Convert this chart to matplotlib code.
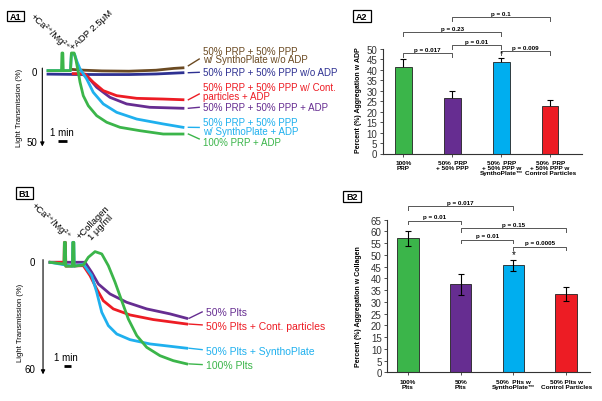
import matplotlib
matplotlib.use('Agg')
import matplotlib.pyplot as plt
from matplotlib.patches import Rectangle

plt.rcParams['font.family'] = ['Liberation Sans', 'DejaVu Sans']

# ---------------- DATA ----------------
# A1 traces: time (min) and light transmission (%)
a1_navy_t = [0, 3, 6, 9, 12, 15]
a1_navy_v = [1.3, 1.5, 1.6, 1.6, 1.2, 0.3]
a1_brown_t = [2.8, 4, 6, 9, 12, 14, 15]
a1_brown_v = [-2.0, -1.5, -1.0, -0.8, -1.5, -2.8, -3.2]
a1_purple_t = [2.8, 3.56, 4.3, 5.41, 6.89, 8.74, 11.3, 15.0]
a1_purple_v = [1.2, 1.2, 2.4, 10.7, 17.9, 22.6, 25.0, 25.7]
a1_red_t = [2.8, 3.56, 4.1, 5.03, 6.14, 7.63, 9.86, 12.8, 15.0]
a1_red_v = [1.0, 1.0, 1.2, 7.1, 13.1, 16.7, 18.6, 19.1, 19.6]
a1_cyan_t = [0, 2.5, 2.6, 2.95, 3.2, 3.56, 4.3, 5.03, 6.14, 7.63, 9.86, 12.8, 15.0]
a1_cyan_v = [-1.2, -1.2, -13, -13, -8, -2.4, 4.8, 14.3, 22.6, 28.6, 33.4, 36.9, 39.3]
a1_green_t = [0, 1.5, 1.55, 1.65, 1.7, 2.5, 2.6, 2.9, 3.1, 3.37, 3.56, 3.92, 4.48,
              5.41, 6.52, 8.0, 10.2, 12.8, 15.0]
a1_green_v = [-1.2, -1.2, -13.8, -13.8, -1.2, -1.2, -13.8, -13.8, -9, 0, 7.1, 16.7, 23.9,
              31.0, 35.7, 39.3, 41.7, 44.1, 44.1]
a1_labels = ["50% PRP + 50% PPP\nw/ SynthoPlate w/o ADP",
             "50% PRP + 50% PPP w/o ADP",
             "50% PRP + 50% PPP w/ Cont.\nparticles + ADP",
             "50% PRP + 50% PPP + ADP",
             "50% PRP + 50% PPP\nw/ SynthoPlate + ADP",
             "100% PRP + ADP"]

# B1 traces
b1_purple_t = [0, 5, 5.95, 6.9, 8.57, 10.96, 13.81, 17.14, 19.53]
b1_purple_v = [0, 0, 5.6, 12.2, 17.8, 22.5, 26.2, 29.0, 31.5]
b1_red_t = [0, 2.0, 2.05, 2.2, 2.25, 4.76, 5.71, 6.67, 7.61, 9.04, 11.43, 14.76, 19.53]
b1_red_v = [0, 0, -11.2, -11.2, 2.2, 1.9, 7.5, 15.0, 21.6, 26.2, 29.6, 32.2, 34.7]
b1_cyan_t = [0, 3.2, 3.25, 3.4, 3.45, 4.76, 5.95, 6.67, 7.39, 8.33, 9.53, 11.43, 14.29, 17.14, 19.53]
b1_cyan_v = [0, 2.2, -11.2, -11.2, 2.2, 1.0, 7.5, 16.8, 28.1, 35.6, 40.3, 43.5, 45.9, 47.2, 48.3]
b1_green_t = [0, 2.0, 2.05, 2.2, 2.25, 3.2, 3.25, 3.4, 3.45, 4.76, 5.47, 6.43, 7.39, 8.33,
              9.29, 10.24, 11.19, 12.39, 13.81, 15.71, 17.61, 19.53]
b1_green_v = [0, 1.0, -11.2, -11.2, 2.2, 2.2, -11.2, -11.2, 2.2, 1.5, -2.8, -6.0, -4.7, 1.9,
              11.2, 21.6, 31.9, 41.2, 47.8, 52.5, 55.3, 57.1]
b1_labels = ["50% Plts", "50% Plts + Cont. particles", "50% Plts + SynthoPlate", "100% Plts"]

# A2 bars
a2_categories = ["100%\nPRP", "50%  PRP\n+ 50% PPP", "50%  PRP\n+ 50% PPP w\nSynthoPlate\u2122",
                 "50%  PRP\n+ 50% PPP w\nControl Particles"]
a2_values = [41.5, 26.5, 44.0, 22.5]
a2_errors = [3.5, 3.3, 1.5, 3.0]
a2_pairs = [(1, 3), (0, 2), (1, 2), (0, 1), (2, 3)]
a2_pvalues = ["p = 0.1", "p = 0.23", "p = 0.01", "p = 0.017", "p = 0.009"]

# B2 bars
b2_categories = ["100%\nPlts", "50%\nPlts", "50%  Plts w\nSynthoPlate\u2122", "50% Plts w\nControl Particles"]
b2_values = [57.0, 37.5, 45.5, 33.5]
b2_errors = [3.0, 4.5, 2.5, 3.0]
b2_pairs = [(0, 2), (0, 1), (1, 3), (1, 2), (2, 3)]
b2_pvalues = ["p = 0.017", "p = 0.01", "p = 0.15", "p = 0.01", "p = 0.0005"]

# ---------------- LAYOUT / STYLE ----------------
W, H = 602, 402
fig = plt.figure(figsize=(W / 100, H / 100), dpi=100)

C_GREEN = '#3BB54A'
C_PURPLE = '#662D91'
C_CYAN = '#1FB0EE'
C_RED = '#ED1C24'
C_NAVY = '#2E3192'
C_BROWN = '#6B4A22'


def add_ax(l, t, r, b):
    return fig.add_axes([l / W, 1 - b / H, (r - l) / W, (b - t) / H])


def ftext(px, py, s, **kw):
    fig.text(px / W, 1 - py / H, s, **kw)


def panel_box(x0, y0, x1, y1, label):
    fig.add_artist(Rectangle((x0 / W, 1 - y1 / H), (x1 - x0) / W, (y1 - y0) / H,
                             transform=fig.transFigure, fill=False, lw=0.9, ec='black'))
    ftext((x0 + x1) / 2, (y0 + y1) / 2 + 0.3, label, ha='center', va='center',
          fontsize=6.5, fontweight='bold')


# ---------------- A1 ----------------
ax1 = add_ax(20, 40, 200, 150)
ax1.set_xlim(-3.11, 16.89)
ax1.set_ylim(54.8, -23.8)
ax1.axis('off')
a1_series = [(a1_navy_t, a1_navy_v, C_NAVY), (a1_brown_t, a1_brown_v, C_BROWN),
             (a1_purple_t, a1_purple_v, C_PURPLE), (a1_red_t, a1_red_v, C_RED),
             (a1_cyan_t, a1_cyan_v, C_CYAN), (a1_green_t, a1_green_v, C_GREEN)]
for t, v, c in a1_series:
    ax1.plot(t, v, color=c, lw=2.0, solid_joinstyle='round')

# label order: brown, navy, red, purple, cyan, green
a1_label_series = [1, 0, 3, 2, 4, 5]
a1_leader_end = [-9.5, 0, 15.5, 25, 39.4, 47.6]
a1_text_y = [-12.4, 0, 13.7, 25, 38.5, 50]
for k, si in enumerate(a1_label_series):
    t, v, c = a1_series[si]
    ax1.plot([t[-1] + 0.6, t[-1] + 1.8], [v[-1] - (1.5 if si == 1 else 0), a1_leader_end[k]],
             color=c, lw=1.0, clip_on=False)
    ax1.text(t[-1] + 2.2, a1_text_y[k], a1_labels[k], color=c, fontsize=7.0,
             ha='left', va='center', linespacing=0.85, clip_on=False)

ax1.annotate('', xy=(-0.63, 53), xytext=(-0.63, -3),
             arrowprops=dict(arrowstyle='-|>', lw=0.8, color='black', mutation_scale=6,
                             shrinkA=0, shrinkB=0))
ax1.text(-1.17, 0, '0', fontsize=7, ha='right', va='center')
ax1.text(-1.17, 50, '50', fontsize=7, ha='right', va='center')
ax1.plot([1.1, 2.1], [49, 49], color='black', lw=2.0, solid_capstyle='butt')
ax1.text(1.55, 42.6, '1 min', fontsize=7, ha='center', va='center')
ftext(20, 108, 'Light Transmission (%)', rotation=90, fontsize=5.5, ha='center', va='center')
ftext(67, 51, '+Ca\u00b2\u207a/Mg\u00b2\u207a', rotation=-42, rotation_mode='anchor',
      ha='right', va='baseline', fontsize=6.8)
ftext(74, 51, '+ADP 2.5\u03bcM', rotation=43, rotation_mode='anchor',
      ha='left', va='baseline', fontsize=6.8)
panel_box(7.3, 11.7, 23.8, 22, 'A1')

# ---------------- B1 ----------------
bx1 = add_ax(20, 235, 205, 380)
bx1.set_xlim(-4.29, 22.14)
bx1.set_ylim(65.6, -15.9)
bx1.axis('off')
b1_series = [(b1_purple_t, b1_purple_v, C_PURPLE), (b1_red_t, b1_red_v, C_RED),
             (b1_cyan_t, b1_cyan_v, C_CYAN), (b1_green_t, b1_green_v, C_GREEN)]
for t, v, c in b1_series:
    bx1.plot(t, v, color=c, lw=2.0, solid_joinstyle='round')
b1_leader_end = [27.9, 35.2, 49.1, 57.5]
b1_text_y = [27.9, 35.8, 49.8, 57.7]
for k, (t, v, c) in enumerate(b1_series):
    bx1.plot([t[-1] + 0.33, t[-1] + 2.2], [v[-1], b1_leader_end[k]], color=c, lw=1.0,
             clip_on=False)
    bx1.text(t[-1] + 2.76, b1_text_y[k], b1_labels[k], color=c, fontsize=7.5,
             ha='left', va='center', clip_on=False)
bx1.annotate('', xy=(-1.0, 63), xytext=(-1.0, -1.5),
             arrowprops=dict(arrowstyle='-|>', lw=0.8, color='black', mutation_scale=6,
                             shrinkA=0, shrinkB=0))
bx1.text(-2.14, 0, '0', fontsize=7, ha='right', va='center')
bx1.text(-2.14, 60, '60', fontsize=7, ha='right', va='center')
bx1.plot([2.0, 3.0], [58.3, 58.3], color='black', lw=2.0, solid_capstyle='butt')
bx1.text(2.3, 53.1, '1 min', fontsize=7, ha='center', va='center')
ftext(21, 323, 'Light Transmission (%)', rotation=90, fontsize=5.5, ha='center', va='center')
ftext(68, 240, '+Ca\u00b2\u207a/Mg\u00b2\u207a', rotation=-42, rotation_mode='anchor',
      ha='right', va='baseline', fontsize=6.8)
ftext(80, 240, '+Collagen', rotation=46, rotation_mode='anchor',
      ha='left', va='baseline', fontsize=6.8)
ftext(92, 241, '1 \u03bcg/ml', rotation=46, rotation_mode='anchor',
      ha='left', va='baseline', fontsize=6.8)
panel_box(15.5, 188.5, 33, 199.5, 'B1')

# ---------------- bar charts ----------------
BAR_COLORS = [C_GREEN, C_PURPLE, '#00AEEF', C_RED]


def bar_panel(ax, cats, vals, errs, ymax, width, upper_only):
    x = list(range(len(vals)))
    if upper_only:
        ax.errorbar(x, vals, yerr=errs, fmt='none', ecolor='black', elinewidth=0.8,
                    capsize=2.5, capthick=0.8, zorder=1)
        ax.bar(x, vals, width=width, color=BAR_COLORS, edgecolor='#222222', lw=0.6, zorder=2)
    else:
        ax.bar(x, vals, width=width, color=BAR_COLORS, edgecolor='#222222', lw=0.6, zorder=2)
        ax.errorbar(x, vals, yerr=errs, fmt='none', ecolor='black', elinewidth=0.8,
                    capsize=2.5, capthick=0.8, zorder=3)
    ax.set_ylim(0, ymax)
    ax.set_yticks(range(0, ymax + 1, 5))
    ax.set_xticks(x)
    ax.set_xticklabels(cats, fontsize=4.6, fontweight='bold', linespacing=0.95)
    for s in ['top', 'right']:
        ax.spines[s].set_visible(False)
    for s in ['left', 'bottom']:
        ax.spines[s].set_color('#333333')
        ax.spines[s].set_linewidth(0.8)
    ax.tick_params(axis='y', labelsize=7, length=2.5, width=0.6, pad=1.5,
                   colors='#333333', labelcolor='#333333')
    ax.tick_params(axis='x', length=2.5, width=0.6, pad=2.5, colors='#333333',
                   labelcolor='black')
    ax.set_facecolor('none')


def brackets(ax, pairs, labels, heights, leg):
    for (i, j), lab, y in zip(pairs, labels, heights):
        ax.plot([i, i, j, j], [y - leg, y, y, y - leg], color='#555555', lw=0.7,
                clip_on=False)
        ax.text((i + j) / 2, y + leg * 0.35, lab, fontsize=4.5, fontweight='bold',
                ha='center', va='bottom', clip_on=False)


# A2
ax2 = add_ax(382.7, 50, 582, 154.5)
bar_panel(ax2, a2_categories, a2_values, a2_errors, 50, 0.34, True)
ax2.set_xlim(-0.42, 3.65)
brackets(ax2, a2_pairs, a2_pvalues, [65.2, 58.0, 51.9, 48.1, 48.9], 1.8)
ax2.text(2, 48.0, '*', fontsize=6, ha='center', va='center', clip_on=False)
ftext(358, 100, 'Percent (%) Aggregation w ADP', rotation=90, fontsize=5,
      fontweight='bold', ha='center', va='center')
panel_box(352.7, 11, 370.7, 22.7, 'A2')

# B2
bx2 = add_ax(387.3, 220.7, 590, 373.3)
bar_panel(bx2, b2_categories, b2_values, b2_errors, 65, 0.41, False)
bx2.set_xlim(-0.39, 3.45)
brackets(bx2, b2_pairs, b2_pvalues, [70.7, 64.6, 61.5, 56.5, 53.5], 1.6)
bx2.text(2, 50.4, '*', fontsize=7, ha='center', va='center', clip_on=False)
ftext(359, 307, 'Percent (%) Aggregation w Collagen', rotation=90, fontsize=5,
      fontweight='bold', ha='center', va='center')
panel_box(343, 192, 361, 203, 'B2')

fig.savefig('out.png', dpi=100)
